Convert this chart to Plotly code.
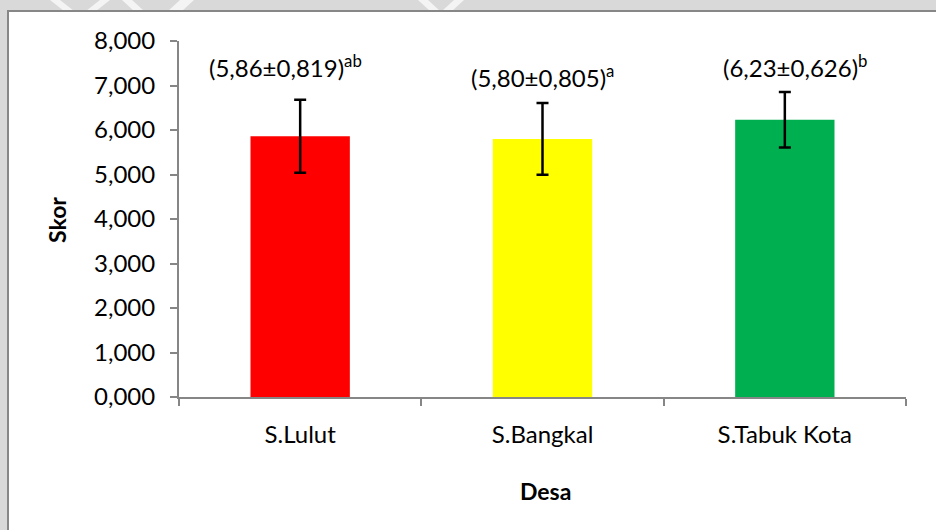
import plotly.graph_objects as go

# Mean score per village with standard deviation and significance letters
desa = ["S.Lulut", "S.Bangkal", "S.Tabuk Kota"]
skor = [5.86, 5.80, 6.23]
sd = [0.819, 0.805, 0.626]
notasi = ["ab", "a", "b"]
warna = ["#ff0000", "#ffff00", "#00b050"]

FONT = "Lato"
W, H = 936, 530
L, R, T, B = 179, 30, 41, 133
PW, PH = W - L - R, H - T - B


def px(x, y):
    """Pixel position -> paper coordinates of the plot domain."""
    return (x - L) / PW, (H - B - y) / PH


def poly(points):
    pts = [px(x, y) for x, y in points]
    return "M " + " L ".join(f"{a:.4f},{b:.4f}" for a, b in pts) + " Z"


fig = go.Figure()
fig.add_trace(go.Bar(
    x=desa, y=skor,
    marker=dict(color=warna, line=dict(width=0)),
    error_y=dict(type="data", array=sd, visible=True,
                 color="black", thickness=2.5, width=6),
    hoverinfo="skip",
))

shapes = []
# faint watermark bands on the grey page margin
for pts in [[(50, 0), (60, 0), (74, 11), (64, 11)],
            [(100, 0), (110, 0), (96, 11), (86, 11)],
            [(122, 0), (132, 0), (144, 11), (134, 11)],
            [(180, 0), (194, 0), (182, 11), (168, 11)],
            [(418, 0), (428, 0), (440, 11), (430, 11)],
            [(454, 0), (464, 0), (452, 11), (442, 11)]]:
    shapes.append(dict(type="path", xref="paper", yref="paper", path=poly(pts),
                       fillcolor="#f4f4f4", line=dict(width=0), layer="below"))
# white chart frame with grey border
x0, y0 = px(8, 11)
x1, y1 = px(960, 560)
shapes.append(dict(type="rect", xref="paper", yref="paper", x0=x0, y0=y1, x1=x1, y1=y0,
                   fillcolor="white", line=dict(color="#878787", width=2), layer="below"))

annotations = []
label_y = [7.43, 7.21, 7.43]
label_dx = [-15, 0, 10]
for d, m, s, n, ly, dx in zip(desa, skor, sd, notasi, label_y, label_dx):
    txt = f"({m:.2f}±{s:.3f})".replace(".", ",") + f"<sup>{n}</sup>"
    annotations.append(dict(x=d, y=ly, xref="x", yref="y", text=txt, showarrow=False,
                            xshift=dx, xanchor="center", yanchor="middle",
                            font=dict(family=FONT, size=24, color="black")))

ax, ay = px(57, 220)
annotations.append(dict(x=ax, y=ay, xref="paper", yref="paper", text="<b>Skor</b>",
                        textangle=-90, showarrow=False, xanchor="center", yanchor="middle",
                        font=dict(family=FONT, size=23, color="black")))
dx_, dy_ = px(545, 491)
annotations.append(dict(x=dx_, y=dy_, xref="paper", yref="paper", text="<b>Desa</b>",
                        showarrow=False, xanchor="center", yanchor="middle",
                        font=dict(family=FONT, size=23, color="black")))

fig.update_layout(
    width=W, height=H,
    margin=dict(l=L, r=R, t=T, b=B, autoexpand=False),
    paper_bgcolor="#d9d9d9",
    plot_bgcolor="rgba(0,0,0,0)",
    separators=", ",
    showlegend=False,
    bargap=0.59,
    shapes=shapes,
    annotations=annotations,
    xaxis=dict(
        showline=True, linecolor="#868686", linewidth=2,
        ticks="outside", tickson="boundaries", ticklen=7, tickcolor="#868686", tickwidth=2,
        tickfont=dict(family=FONT, size=24, color="black"),
        ticklabelstandoff=15, showgrid=False, zeroline=False, fixedrange=True,
    ),
    yaxis=dict(
        range=[0, 8], dtick=1, tickformat=".3f",
        showline=True, linecolor="#868686", linewidth=2,
        ticks="outside", ticklen=7, tickcolor="#868686", tickwidth=2,
        tickfont=dict(family=FONT, size=24, color="black"),
        ticklabelstandoff=10, showgrid=False, zeroline=False, fixedrange=True,
    ),
)

fig.write_html("out.html", config={"displayModeBar": False})
